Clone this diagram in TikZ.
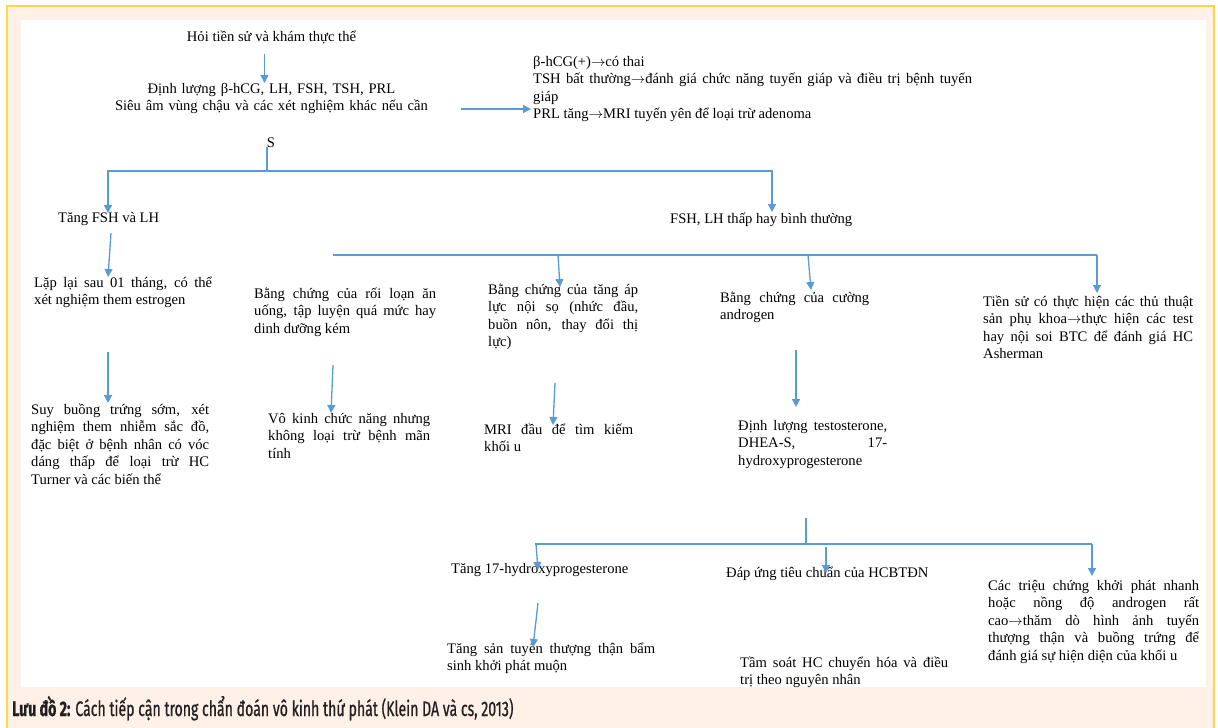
\documentclass[tikz,border=0pt]{standalone}
\usepackage{fontspec}
\setmainfont{Liberation Serif}
\newfontfamily\capfont[FakeStretch=0.67, FakeBold=0.8]{Fira Sans}
\usepackage{xcolor}
\usepackage{tikz}
\usetikzlibrary{arrows.meta}
\usetikzlibrary{positioning}
\definecolor{wordblue}{RGB}{91,155,213}
\definecolor{peach}{RGB}{255,241,232}
\definecolor{frameyellow}{RGB}{255,214,70}
\definecolor{capink}{RGB}{35,31,32}
\hyphenpenalty=10000
\tolerance=10000
\newcommand{\toarr}{\ensuremath{\rightarrow}}
\tikzstyle{plain} = [inner sep=0pt, anchor=base west, font=\fontsize{14.6}{17.6}\selectfont]
\tikzstyle{block} = [plain, align=justify]
\tikzstyle{link} = [draw=wordblue, line width=1.3pt]
\tikzstyle{arrow} = [link, -{Triangle[length=8pt,width=8pt]}]
\tikzstyle{caption} = [inner sep=0pt, anchor=base west, text=capink,
font=\capfont\fontsize{21}{25}\selectfont]

\begin{document}
\begin{tikzpicture}[x=1pt, y=-1pt]
    \useasboundingbox (0,0) rectangle (1218,728);
    % frame
    \fill[white] (0,0) rectangle (1218,728);
    \fill[peach] (7,6) rectangle (1214,728);
    \draw[frameyellow, line width=2pt] (7,728) -- (7,6) -- (1214,6) -- (1214,728);
    \fill[white] (21,20) rectangle (1206,687);

    \node (hoi) [plain, anchor=base] at (271.5,41) {Hỏi tiền sử và khám thực thể};
    \node (dinh) [plain, anchor=base, text width=320pt, align=center] at (271.5,93)
    {Định lượng β-hCG, LH, FSH, TSH, PRL\\
     Siêu âm vùng chậu và các xét nghiệm khác nếu cần};
    \node (res) [block, text width=439pt] at (533,66)
    {β-hCG(+)\toarr có thai\\
     TSH bất thường\toarr đánh giá chức năng tuyến giáp và điều trị bệnh tuyến\linebreak giáp\\
     PRL tăng\toarr MRI tuyến yên để loại trừ adenoma};
    \node (s) [plain, anchor=base] at (271,147) {S};

    \node (tfsh) [plain] at (58,222) {Tăng FSH và LH};
    \node (fsh) [plain] at (670,223) {FSH, LH thấp hay bình thường};
    \node (lap) [block, text width=178pt] at (34,287)
    {Lặp lại sau 01 tháng, có thể\linebreak xét nghiệm them estrogen};
    \node (suy) [block, text width=178pt] at (31,414)
    {Suy buồng trứng sớm, xét\linebreak nghiệm them nhiễm sắc đồ,\linebreak
     đặc biệt ở bệnh nhân có vóc\linebreak dáng thấp để loại trừ HC\linebreak
     Turner và các biến thể};

    \node (roi) [block, text width=182pt] at (254,298)
    {Bằng chứng của rối loạn ăn\linebreak uống, tập luyện quá mức hay\linebreak dinh dưỡng kém};
    \node (vk) [block, text width=162pt] at (268,423)
    {Vô kinh chức năng nhưng\linebreak không loại trừ bệnh mãn\linebreak tính};
    \node (tap) [block, text width=150pt] at (488,294)
    {Bằng chứng của tăng áp\linebreak lực nội sọ (nhức đầu,\linebreak buồn nôn, thay đổi thị\linebreak lực)};
    \node (mri) [block, text width=149pt] at (484,434)
    {MRI đầu để tìm kiếm\linebreak khối u};
    \node (cuong) [block, text width=149pt] at (720,302)
    {Bằng chứng của cường\linebreak androgen};
    \node (test) [block, text width=149pt] at (738,430)
    {Định lượng testosterone,\linebreak DHEA-S, 17-\linebreak hydroxyprogesterone};
    \node (thuat) [block, text width=210pt] at (983,306)
    {Tiền sử có thực hiện các thủ thuật\linebreak sản phụ khoa\toarr thực hiện các test\linebreak
     hay nội soi BTC để đánh giá HC\linebreak Asherman};

    \node (t17) [plain] at (451,573) {Tăng 17-hydroxyprogesterone};
    \node (hcb) [plain] at (726,577) {Đáp ứng tiêu chuẩn của HCBTĐN};
    \node (nhanh) [block, text width=211pt] at (988,590)
    {Các triệu chứng khởi phát nhanh\linebreak hoặc nồng độ androgen rất\linebreak
     cao\toarr thăm dò hình ảnh tuyến\linebreak thượng thận và buồng trứng để\linebreak
     đánh giá sự hiện diện của khối u};
    \node (bam) [block, text width=208pt] at (447,653)
    {Tăng sản tuyến thượng thận bẩm\linebreak sinh khởi phát muộn};
    \node (soat) [block, text width=208pt] at (740,667)
    {Tầm soát HC chuyển hóa và điều\linebreak trị theo nguyên nhân};

    \node (cap) [caption] at (12,716)
    {\textbf{Lưu đồ 2:} Cách tiếp cận trong chẩn đoán vô kinh thứ phát (Klein DA và cs, 2013)};

    % buses
    \coordinate (l2) at (333,255);
    \coordinate (r2) at (1097,255);
    \coordinate (l3) at (535,544);
    \coordinate (r3) at (1092,544);

    \draw[arrow] ([xshift=-7pt,yshift=-13pt]hoi.base) -- ([xshift=-7pt,yshift=10pt]dinh.base);
    \draw[arrow] ([xshift=29pt,yshift=-16pt]dinh.base east) -- ([xshift=-2pt,yshift=-43pt]res.base west);
    \draw[link] ([xshift=-4pt]s.base) -- ++(0,24) coordinate (b1);
    \draw[arrow] (b1) -| ([xshift=50pt,yshift=9pt]tfsh.base west);
    \draw[arrow] (b1) -| ([xshift=102pt,yshift=11pt]fsh.base west);
    \draw[arrow] ([xshift=53pt,yshift=-11pt]tfsh.base west) -- ([xshift=74pt,yshift=10pt]lap.base west);
    \draw[arrow] ([xshift=74pt,yshift=-65pt]lap.base west) -- ([xshift=77pt,yshift=11pt]suy.base west);

    \draw[link] (l2) -- (r2);
    \draw[arrow] ([xshift=70pt,yshift=39pt]tap.base west) -- ([xshift=72pt,yshift=7pt]tap.base west);
    \draw[arrow] ([xshift=88pt,yshift=47pt]cuong.base west) -- ([xshift=91pt,yshift=12pt]cuong.base west);
    \draw[arrow] (r2) -- ([xshift=114pt,yshift=13pt]thuat.base west);
    \draw[arrow] ([xshift=79pt,yshift=-67pt]roi.base west) -- ([xshift=63pt,yshift=10pt]vk.base west);
    \draw[arrow] ([xshift=67pt,yshift=-89pt]tap.base west) -- ([xshift=69pt,yshift=9pt]mri.base west);
    \draw[arrow] ([xshift=76pt,yshift=-48pt]cuong.base west) -- ([xshift=58pt,yshift=23pt]test.base west);

    \draw[link] ([xshift=68pt,yshift=-88pt]test.base west) -- ++(0,26);
    \draw[link] (l3) -- (r3);
    \draw[arrow] ([xshift=85pt,yshift=29pt]t17.base west) -- ([xshift=87pt,yshift=3pt]t17.base west);
    \draw[arrow] ([xshift=100pt,yshift=30pt]hcb.base west) -- ([xshift=100pt,yshift=4pt]hcb.base west);
    \draw[arrow] (r3) -- ([xshift=104pt,yshift=14pt]nhanh.base west);
    \draw[arrow] ([xshift=87pt,yshift=-30pt]t17.base west) -- ([xshift=86pt,yshift=6pt]bam.base west);
\end{tikzpicture}
\end{document}
